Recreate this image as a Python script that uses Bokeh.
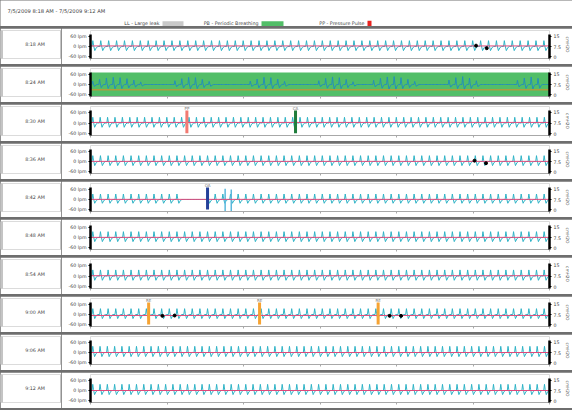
import numpy as np
from bokeh.plotting import figure
from bokeh.layouts import column, row
from bokeh.models import Range1d, LinearAxis, FixedTicker, ColumnDataSource, Spacer
from bokeh.embed import file_html
from bokeh.resources import INLINE
from bokeh.core.properties import value

FONT = "DejaVu Sans"

# ---------------- data ----------------
title_text = "7/5/2009 8:18 AM - 7/5/2009 9:12 AM"
legend_labels = ["LL - Large leak", "PB - Periodic Breathing", "PP - Pressure Pulse"]
legend_colors = ["#c9c9c9", "#52be68", "#e8231f"]

row_times = ["8:18 AM", "8:24 AM", "8:30 AM", "8:36 AM", "8:42 AM",
             "8:48 AM", "8:54 AM", "9:00 AM", "9:06 AM", "9:12 AM"]
breaths_per_row = [58, 67, 62, 60, 60, 60, 60, 60, 63, 63]
insp_peak_lpm = [34, 0, 32, 34, 32, 34, 34, 34, 36, 36]
exp_trough_lpm = [-24, 0, -24, -24, -22, -24, -24, -24, -24, -24]
pressure_cmh2o = [7.9, 3.6, 7.9, 7.6, 7.6, 7.6, 7.7, 6.8, 7.5, 7.5]

# periodic breathing row (8:24 AM): peak flow of each breath slot, 0 = no breath
pb_row = 1
pb_peaks_lpm = [20, 30, 38, 42, 40, 34, 26, 15, 0, 0, 0, 0,
                22, 34, 42, 40, 30, 18, 0, 0, 0, 0, 0,
                20, 32, 42, 40, 32, 18, 0, 0, 0, 0,
                22, 36, 44, 40, 30, 16, 0, 0,
                24, 36, 44, 46, 40, 30, 18, 0, 0, 0, 0,
                26, 40, 46, 38, 22, 0, 0, 0, 0, 0,
                24, 38, 44, 36, 0]
pb_start_min = [0.0]
pb_end_min = [6.0]

# flat flow (apnea) windows
flat_row = [4]
flat_start_min = [1.22]
flat_end_min = [1.50]

# very large breaths
large_row = [4, 4]
large_min = [1.76, 1.84]
large_peak_lpm = [62, 58]
large_trough_lpm = [-68, -68]

# flagged events
event_row = [2, 2, 4, 7, 7, 7]
event_min = [1.26, 2.68, 1.53, 0.76, 2.21, 3.76]
event_code = ["PP", "CA", "OA", "RE", "RE", "RE"]
event_colors = {"PP": "#f27a72", "CA": "#1f7d3c", "OA": "#24409a", "RE": "#f6a332"}

# snore dots
snore_row = [0, 0, 3, 3, 7, 7, 7, 7]
snore_min = [5.04, 5.18, 5.02, 5.17, 0.94, 1.10, 3.91, 4.06]
snore_lpm = [5, -10, 5, -10, -8, -6, -8, -8]

flow_ticks = [-60, 0, 60]
flow_tick_labels = ["-60 lpm", "0 lpm", "60 lpm"]
press_ticks = [0, 7.5, 15]
press_tick_labels = ["0", "7.5", "15"]
minute_ticks = [0, 1, 2, 3, 4, 5, 6]

# ---------------- style ----------------
W = 572
HEADER_H = 26
SEP_H = 2
row_heights = [36, 36, 37, 36, 36, 36, 37, 36, 36, 36]
LABEL_W = 61
CHART_W = W - LABEL_W
SEP_COLOR = "#6e6e6e"
FLOW_COLOR = "#2fb3c6"
FLOW_PB_COLOR = "#2590b8"
PRESS_COLOR = "#e0487a"
PRESS_PB_COLOR = "#e0882a"
TXT = "#444444"
FLOW_LIM = 70.0
BORDER_TOP = 2
BORDER_BOTTOM = 6
PLOT_TOP_GAP = 4  # px of frame above the +70 lpm limit (room for event codes)

# breath shape template (fraction of breath period, relative amplitude)
SHAPE_T = [0.0, 0.10, 0.20, 0.35, 0.55, 0.75]
SHAPE_V = [0.0, 1.0, 0.15, -1.0, -0.25, 0.0]


def bare(fig):
    fig.outline_line_color = None
    fig.grid.visible = False
    return fig


def flow_series(r):
    n = breaths_per_row[r]
    T = 6.0 / n
    xs, ys = [], []
    for k in range(n):
        t0 = 0.02 + k * T
        if r == pb_row:
            P = pb_peaks_lpm[k] if k < len(pb_peaks_lpm) else 0
            Q = -0.6 * P
        else:
            P, Q = insp_peak_lpm[r], exp_trough_lpm[r]
        for fr, s, e in zip(flat_row, flat_start_min, flat_end_min):
            if fr == r and s <= t0 < e:
                P, Q = 0, 0
        for f, v in zip(SHAPE_T, SHAPE_V):
            xs.append(t0 + f * T)
            ys.append(v * P if v >= 0 else (-v) * Q)
    return xs, ys


# ---------------- header ----------------
header = figure(width=W, height=HEADER_H, output_backend="svg", toolbar_location=None,
                x_axis_location=None, y_axis_location=None, min_border=0,
                x_range=Range1d(0, W), y_range=Range1d(HEADER_H, 0))
bare(header)
header.text(x=[7], y=[10], text=[title_text], text_font=value(FONT),
            text_font_size="5.2px", text_color=TXT, text_baseline="middle")
box_left = [162, 261, 367]
box_right = [183, 283, 371]
header.text(x=[b - 3 for b in box_left], y=[23.4] * 3, text=legend_labels,
            text_font=value(FONT), text_font_size="4.8px", text_color=TXT,
            text_align="right", text_baseline="middle")
header.quad(left=box_left, right=box_right, top=[20.8, 20.8, 20.2],
            bottom=[26, 26, 26], color=legend_colors, line_color=None)

children = [header]

# ---------------- rows ----------------
for r, h in enumerate(row_heights):
    # time label cell
    lab = figure(width=LABEL_W, height=h, output_backend="svg", toolbar_location=None,
                 x_axis_location=None, y_axis_location=None, min_border=0,
                 x_range=Range1d(0, LABEL_W), y_range=Range1d(0, 1))
    bare(lab)
    lab.text(x=[34.5], y=[0.5], text=[row_times[r]], text_font=value(FONT),
             text_font_size="4.8px", text_color=TXT, text_align="center",
             text_baseline="middle")
    lab.segment(x0=[1.5, LABEL_W - 0.5], y0=[0, 0], x1=[1.5, LABEL_W - 0.5], y1=[1, 1],
                line_color="#8a8a8a", line_width=1)

    # chart
    span_px = h - 6 - BORDER_BOTTOM
    top_val = FLOW_LIM + PLOT_TOP_GAP * (2 * FLOW_LIM / span_px)
    p = figure(width=CHART_W, height=h, output_backend="svg", toolbar_location=None,
               x_axis_location=None, y_axis_location=None, title=None,
               x_range=Range1d(0, 6), y_range=Range1d(-FLOW_LIM, top_val),
               min_border_left=29, min_border_right=18, min_border_top=BORDER_TOP,
               min_border_bottom=BORDER_BOTTOM)
    bare(p)
    k = 15.0 / 120.0
    p.extra_y_ranges = {"p": Range1d(7.5 - FLOW_LIM * k, 7.5 + top_val * k)}

    for pr, ps, pe in zip([pb_row], pb_start_min, pb_end_min):
        if pr == r:
            p.quad(left=[ps], right=[pe], bottom=[-FLOW_LIM], top=[FLOW_LIM],
                   color="#52be68", line_color=None)

    xs, ys = flow_series(r)
    p.line(xs, ys, line_color=FLOW_PB_COLOR if r == pb_row else FLOW_COLOR, line_width=1)

    lx = [m for rr, m in zip(large_row, large_min) if rr == r]
    if lx:
        lp = [v for rr, v in zip(large_row, large_peak_lpm) if rr == r]
        lt = [v for rr, v in zip(large_row, large_trough_lpm) if rr == r]
        p.segment(x0=lx, y0=lt, x1=lx, y1=lp, line_color="#5ab8dc", line_width=1.5)

    pc = PRESS_PB_COLOR if r == pb_row else PRESS_COLOR
    p.line([0, 6], [pressure_cmh2o[r]] * 2, y_range_name="p", line_color=pc, line_width=1)

    sx = [m for rr, m in zip(snore_row, snore_min) if rr == r]
    if sx:
        sy = [v for rr, v in zip(snore_row, snore_lpm) if rr == r]
        p.scatter(sx, sy, size=3, color="black")

    ex = [m for rr, m in zip(event_row, event_min) if rr == r]
    if ex:
        ec = [c for rr, c in zip(event_row, event_code) if rr == r]
        src = ColumnDataSource(dict(x=ex, y0=[-58] * len(ex), y1=[FLOW_LIM] * len(ex),
                                    code=ec, color=[event_colors[c] for c in ec]))
        p.segment(x0="x", y0="y0", x1="x", y1="y1", line_color="color",
                  line_width=3, source=src)
        p.text(x="x", y="y1", text="code", source=src, text_font=value(FONT),
               text_font_size="4px", text_color="#777777", text_align="center",
               text_baseline="bottom")

    # axes
    ly = LinearAxis(ticker=FixedTicker(ticks=flow_ticks), bounds=(-FLOW_LIM, FLOW_LIM),
                    major_label_overrides=dict(zip(flow_ticks, flow_tick_labels)))
    ry = LinearAxis(y_range_name="p", ticker=FixedTicker(ticks=press_ticks),
                    bounds=(7.5 - FLOW_LIM * k, 7.5 + FLOW_LIM * k),
                    major_label_overrides=dict(zip(press_ticks, press_tick_labels)),
                    axis_label="cmH2O")
    bx = LinearAxis(ticker=FixedTicker(ticks=minute_ticks),
                    major_label_overrides={t: "" for t in minute_ticks})
    for ax in (ly, ry):
        ax.axis_line_color = "black"
        ax.axis_line_width = 2.5
        ax.major_tick_line_color = "black"
        ax.major_tick_out = 2
        ax.major_tick_in = 0
        ax.minor_tick_line_color = None
        ax.major_label_standoff = 2
        ax.major_label_text_font = FONT
        ax.major_label_text_font_size = "4.7px"
        ax.major_label_text_color = TXT
    ry.axis_label_text_font = FONT
    ry.axis_label_text_font_size = "4.3px"
    ry.axis_label_text_font_style = "normal"
    ry.axis_label_text_color = TXT
    ry.axis_label_standoff = 1
    bx.axis_line_color = "#a8a8a8"
    bx.major_tick_line_color = "#a8a8a8"
    bx.major_tick_out = 2
    bx.major_tick_in = 0
    bx.minor_tick_line_color = None
    bx.major_label_text_font_size = "0px"
    bx.major_label_standoff = 0
    p.add_layout(ly, "left")
    p.add_layout(ry, "right")
    p.add_layout(bx, "below")

    children.append(row(lab, p))

children.append(Spacer(width=W, height=0))
layout = column(*children, spacing=SEP_H, styles={"background-color": SEP_COLOR})
open("out.html", "w").write(file_html(layout, INLINE))
